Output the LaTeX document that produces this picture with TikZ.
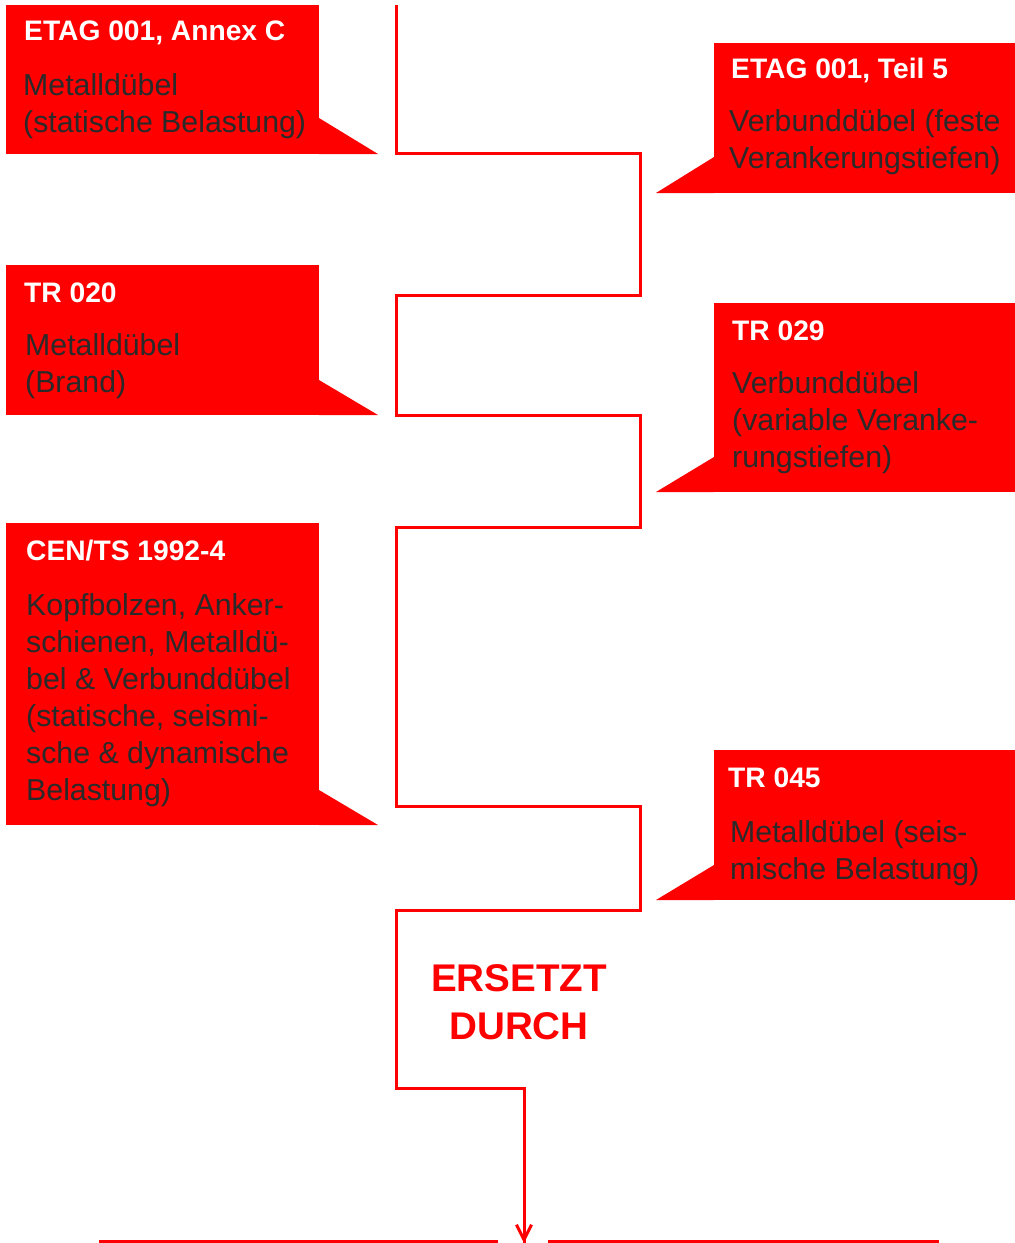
\documentclass[tikz,border=0pt]{standalone}
\usepackage{fontspec}
\setmainfont{Liberation Sans}
\usetikzlibrary{arrows.meta}
\definecolor{tred}{HTML}{FF0000}
\definecolor{tdark}{HTML}{2A2A2A}
\begin{document}
\begin{tikzpicture}[x=1pt,y=-1pt,
  box/.style={fill=tred, draw=none, anchor=north west, inner sep=0pt},
  tail/.style={fill=tred, draw=none},
  ttl/.style={anchor=base west, inner sep=0pt, text=white, font=\fontsize{28.2}{34}\selectfont\bfseries},
  bdy/.style={anchor=base west, inner sep=0pt, text=tdark, align=left, font=\fontsize{30.3}{37}\selectfont},
  flow/.style={draw=tred, line width=3pt},
]
\useasboundingbox (0,0) rectangle (1015,1243);

% left boxes
\node[box, minimum width=313pt, minimum height=149pt] (b1) at (6,5) {};
\fill[tail] (319,118) -- (378,154) -- (319,154) -- cycle;
\node[box, minimum width=313pt, minimum height=150pt] (b3) at (6,265) {};
\fill[tail] (319,380) -- (378,415) -- (319,415) -- cycle;
\node[box, minimum width=313pt, minimum height=302pt] (b5) at (6,523) {};
\fill[tail] (319,790) -- (378,825) -- (319,825) -- cycle;

% right boxes
\node[box, minimum width=301pt, minimum height=150pt] (b2) at (714,43) {};
\fill[tail] (714,157) -- (656,193) -- (714,193) -- cycle;
\node[box, minimum width=301pt, minimum height=189pt] (b4) at (714,303) {};
\fill[tail] (714,457) -- (656,492) -- (714,492) -- cycle;
\node[box, minimum width=301pt, minimum height=150pt] (b6) at (714,750) {};
\fill[tail] (714,865) -- (656,900) -- (714,900) -- cycle;

% texts
\node[ttl] (t1) at (24,40) {ETAG 001, Annex C};
\node[bdy] (d1) at (23,132) {Metalldübel\\(statische Belastung)};

\node[ttl] (t2) at (731,78) {ETAG 001, Teil 5};
\node[bdy] (d2) at (729,168) {Verbunddübel (feste\\Verankerungstiefen)};

\node[ttl] (t3) at (24,302) {TR 020};
\node[bdy] (d3) at (25,392) {Metalldübel\\(Brand)};

\node[ttl] (t4) at (732,340) {TR 029};
\node[bdy] (d4) at (732,467) {Verbunddübel\\(variable Veranke-\\rungstiefen)};

\node[ttl] (t5) at (26,560) {CEN/TS 1992-4};
\node[bdy] (d5) at (26,800) {Kopfbolzen, Anker-\\schienen, Metalldü-\\bel \& Verbunddübel\\(statische, seismi-\\sche \& dynamische\\Belastung)};

\node[ttl] (t6) at (728,787) {TR 045};
\node[bdy] (d6) at (730,879) {Metalldübel (seis-\\mische Belastung)};

\node[text=tred, align=center, inner sep=0pt, font=\fontsize{38.6}{48}\selectfont\bfseries] (rep) at (519,1002) {ERSETZT\\DURCH};

% flow line
\coordinate (p0) at (396,5);
\coordinate (p1) at (396,153);
\coordinate (p2) at (640,153);
\coordinate (p3) at (640,295);
\coordinate (p4) at (396,295);
\coordinate (p5) at (396,415);
\coordinate (p6) at (640,415);
\coordinate (p7) at (640,527);
\coordinate (p8) at (396,527);
\coordinate (p9) at (396,806);
\coordinate (p10) at (640,806);
\coordinate (p11) at (640,910);
\coordinate (p12) at (396,910);
\coordinate (p13) at (396,1088);
\coordinate (p14) at (524,1088);
\coordinate (p15) at (524,1243);
\draw[flow, line join=miter] (p0) -- (p1) -- (p2) -- (p3) -- (p4) -- (p5) -- (p6) -- (p7) -- (p8) -- (p9) -- (p10) -- (p11) -- (p12) -- (p13) -- (p14) -- (p15);
\draw[flow, -{Straight Barb[length=15pt,width=15pt,line width=3pt]}] (p14) -- (p15);

% bottom frame line
\coordinate (q0) at (100,1250);
\coordinate (q1) at (100,1241);
\coordinate (q2) at (498,1241);
\coordinate (q3) at (548,1241);
\coordinate (q4) at (937,1241);
\coordinate (q5) at (937,1250);
\draw[flow] (q0) -- (q1) -- (q2);
\draw[flow] (q3) -- (q4) -- (q5);
\end{tikzpicture}
\end{document}
